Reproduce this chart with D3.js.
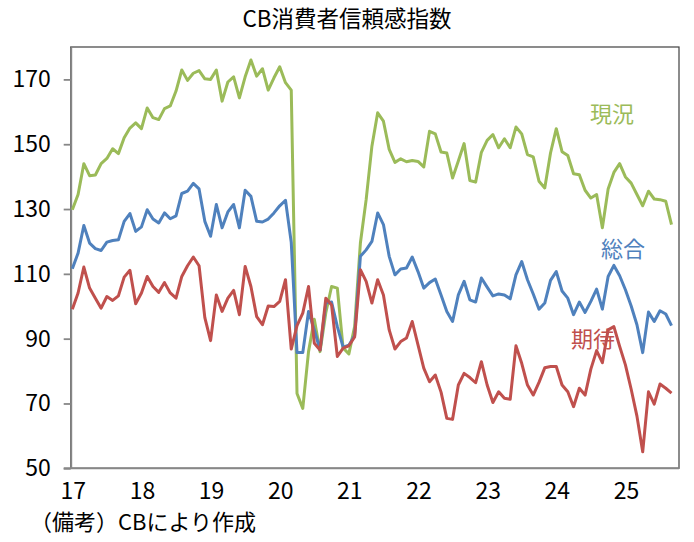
<!DOCTYPE html>
<html><head><meta charset="utf-8">
<script src="https://cdn.jsdelivr.net/npm/d3@7/dist/d3.min.js"></script>
<style>
html,body{margin:0;padding:0;background:#fff;}
text{font-family:"Noto Sans CJK JP","Noto Sans",sans-serif;}
.num{font-family:"Liberation Sans Narrow","Noto Sans CJK JP",sans-serif;}
</style></head>
<body><svg id="c" width="694" height="542"></svg>
<script>
// Monthly, Jan 2017 – Sep 2025
const yearLabels = ["17","18","19","20","21","22","23","24","25"];
const yTicks = [50,70,90,110,130,150,170];

const present = [
129.8,134.5,144.0,140.3,140.5,144.0,145.6,148.6,147.1,152.0,155.0,156.6,
154.8,161.2,158.2,157.6,161.0,161.8,166.4,172.9,169.7,171.9,172.7,170.2,
170.0,172.9,163.3,169.2,170.8,164.3,170.8,176.0,171.0,173.3,166.7,170.5,
173.9,169.0,166.7,73.1,68.5,86.0,96.0,86.0,98.0,106.1,105.6,87.1,
85.3,93.7,119.5,132.9,149.4,159.7,157.1,148.4,144.4,145.5,144.6,145.0,
144.7,143.0,154.0,153.2,147.6,147.3,139.6,144.8,150.2,138.8,138.3,147.5,
151.2,153.0,148.9,151.7,148.9,155.3,153.2,146.8,146.1,138.6,136.5,147.3,
154.8,147.7,146.5,140.9,140.6,135.8,133.4,134.5,124.2,136.2,141.3,144.0,
139.9,138.0,134.5,131.0,135.5,133.1,132.9,132.4,125.2];

const total = [
111.6,116.4,124.9,119.5,117.8,117.2,119.8,120.3,120.5,126.2,128.6,123.1,
124.5,129.8,126.9,125.7,128.8,127.0,127.9,134.8,135.5,137.9,136.2,126.2,
121.6,131.4,124.2,129.1,131.4,124.2,135.8,133.9,126.2,126.0,126.9,128.8,
131.0,132.7,119.7,85.7,85.7,98.4,92.7,86.5,101.0,101.3,93.7,87.4,
88.0,91.0,115.4,117.4,120.0,128.8,125.2,115.4,109.7,111.5,111.8,115.2,
110.7,105.6,107.3,108.4,103.5,98.4,95.3,103.5,107.7,102.0,101.3,108.7,
105.9,103.2,103.8,103.5,102.3,109.7,113.8,108.2,103.8,99.1,101.0,108.0,
110.7,104.7,102.5,97.4,101.3,98.1,101.5,105.3,99.1,109.2,112.6,109.4,
105.1,100.1,94.3,85.7,98.2,95.3,98.6,97.6,94.0];

const expectations = [
99.1,104.1,112.1,105.6,102.5,99.4,103.0,101.8,103.2,109.0,111.1,100.8,
104.1,109.2,106.1,104.3,107.3,104.1,102.5,109.2,112.5,115.2,112.5,96.5,
89.4,103.5,98.4,102.5,104.9,97.4,112.3,106.1,96.8,94.3,100.1,99.9,
101.5,108.2,86.8,94.0,97.9,106.1,88.6,86.5,102.5,100.4,84.5,87.1,
87.8,90.5,111.3,107.7,101.0,108.2,103.5,92.7,86.8,89.1,90.2,95.3,
88.1,80.9,76.7,78.8,73.5,65.4,65.1,75.7,79.3,78.0,76.4,82.9,
75.7,70.3,73.6,71.6,71.3,87.8,82.4,75.7,72.6,76.5,81.0,81.4,
81.4,75.7,73.6,69.0,74.7,72.6,80.6,86.3,82.6,92.7,93.7,87.6,
81.9,74.4,66.1,55.1,73.6,69.8,76.0,74.7,73.2];

const series = [
  {name:"現況", values:present, color:"#9BBB59", lx:612, ly:112},
  {name:"総合", values:total, color:"#4F81BD", lx:623, ly:247},
  {name:"期待", values:expectations, color:"#C0504D", lx:593, ly:337}
];

const svg = d3.select("#c");
const L=70.7, R=679, T=47, B=468.3;
const x = d3.scaleLinear().domain([-0.28,105.3]).range([L,R]);
const y = d3.scaleLinear().domain([50,180]).range([B,T]);

svg.append("rect").attr("width",694).attr("height",542).attr("fill","#fff");

// title
svg.append("text").attr("x",347).attr("y",27).attr("text-anchor","middle")
  .attr("font-size",22.5).attr("fill","#000").text("CB消費者信頼感指数");

// plot border (top/right)
svg.append("rect").attr("x",L).attr("y",T).attr("width",R-L).attr("height",B-T)
  .attr("fill","none").attr("stroke","#404040").attr("stroke-width",1.2);

// y axis
const ya = svg.append("g").attr("transform",`translate(${L},0)`)
  .call(d3.axisLeft(y).tickValues(yTicks).tickSize(7).tickPadding(13).tickSizeOuter(0));
ya.select(".domain").attr("stroke","#878787").attr("stroke-width",2);
ya.selectAll(".tick line").attr("stroke","#878787").attr("stroke-width",1.8);
ya.selectAll(".tick text").attr("class","num").attr("font-size",23).attr("fill","#000")
  .attr("font-family",null);

// bottom axis line
svg.append("line").attr("x1",L-7).attr("x2",R).attr("y1",B).attr("y2",B)
  .attr("stroke","#878787").attr("stroke-width",2);

// x labels
svg.append("g").selectAll("text").data(yearLabels).join("text")
  .attr("class","num")
  .attr("x",(d,i)=>x(i*12)+1).attr("y",499).attr("text-anchor","middle")
  .attr("font-size",23).attr("fill","#000").text(d=>d);

// lines
const line = d3.line().x((d,i)=>x(i)).y(d=>y(d));
series.forEach(s=>{
  svg.append("path").datum(s.values).attr("d",line).attr("fill","none")
    .attr("stroke",s.color).attr("stroke-width",3).attr("stroke-linejoin","round");
});
series.forEach(s=>{
  svg.append("text").attr("x",s.lx).attr("y",s.ly).attr("text-anchor","middle")
    .attr("dominant-baseline","central").attr("font-size",22).attr("fill",s.color).text(s.name);
});

// note
svg.append("text").attr("x",30).attr("y",530).attr("font-size",22).attr("fill","#000")
  .text("（備考）CBにより作成");
</script></body></html>
